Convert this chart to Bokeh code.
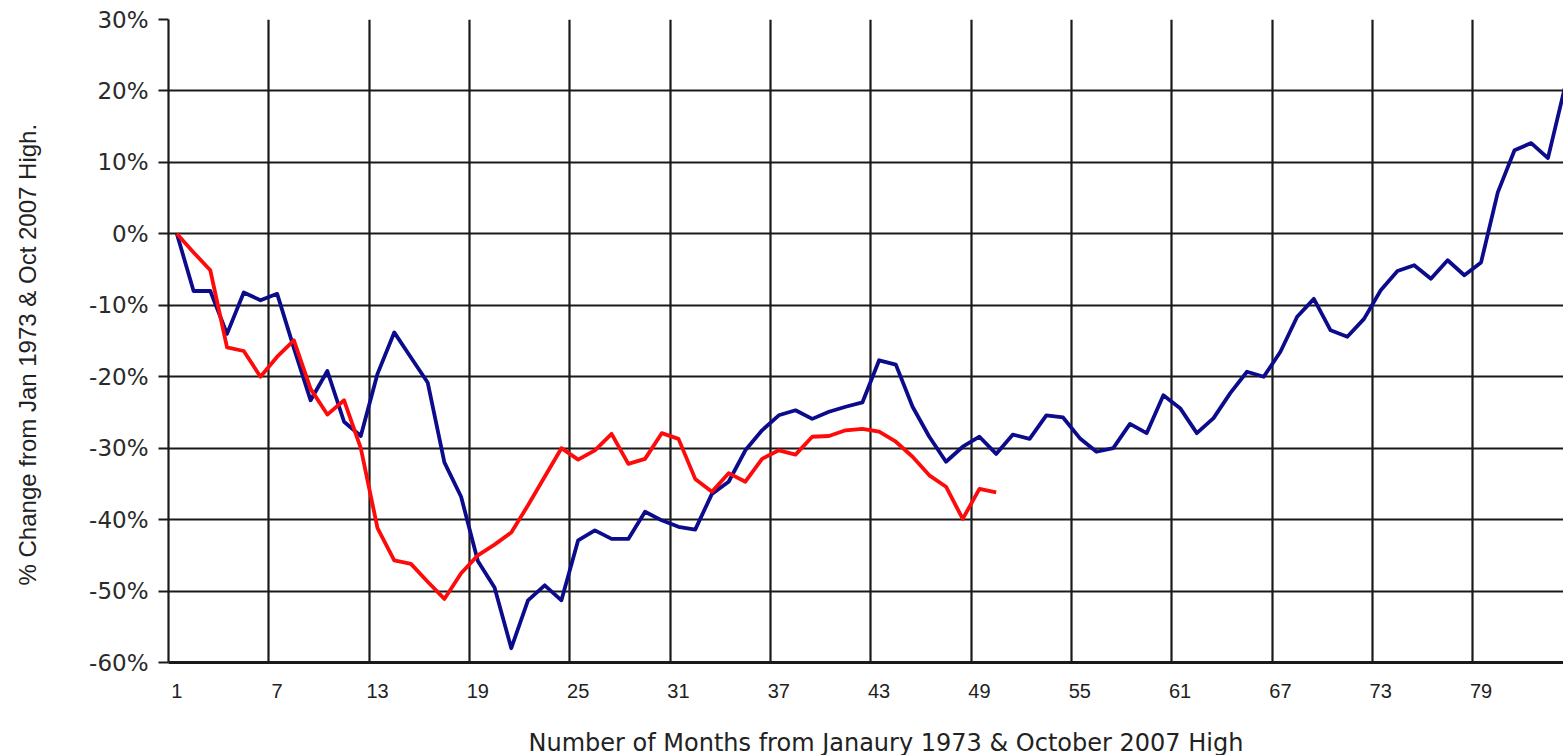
from bokeh.plotting import figure
from bokeh.models import Range1d, FixedTicker, Title
from bokeh.embed import file_html
from bokeh.resources import INLINE

# ---- data ----
months_blue = list(range(1, 85))
pct_1973 = [0.0, -8.0, -8.0, -14.0, -8.2, -9.3, -8.4, -16.0, -23.3, -19.2,
            -26.3, -28.3, -19.6, -13.8, -17.3, -20.8, -32.0, -36.8, -45.8, -49.5,
            -58.0, -51.3, -49.2, -51.3, -42.9, -41.5, -42.7, -42.7, -38.9, -40.1,
            -41.0, -41.4, -36.4, -34.7, -30.3, -27.5, -25.4, -24.7, -25.9, -24.9,
            -24.2, -23.6, -17.7, -18.3, -24.2, -28.4, -31.9, -29.8, -28.4, -30.8,
            -28.1, -28.7, -25.4, -25.7, -28.6, -30.5, -30.0, -26.6, -27.9, -22.6,
            -24.4, -27.9, -25.8, -22.3, -19.3, -20.0, -16.5, -11.6, -9.1, -13.5,
            -14.4, -11.9, -7.9, -5.2, -4.4, -6.3, -3.7, -5.8, -4.0, 5.8,
            11.7, 12.7, 10.6, 20.4]
months_red = list(range(1, 51))
pct_2007 = [0.0, -2.6, -5.1, -15.9, -16.4, -20.0, -17.2, -14.9, -21.7, -25.3,
            -23.3, -30.0, -41.2, -45.7, -46.2, -48.7, -51.1, -47.5, -45.0, -43.5,
            -41.8, -38.0, -34.0, -30.0, -31.6, -30.3, -28.0, -32.2, -31.5, -27.9,
            -28.7, -34.3, -36.1, -33.5, -34.7, -31.5, -30.3, -30.9, -28.4, -28.3,
            -27.5, -27.3, -27.7, -29.1, -31.2, -33.8, -35.4, -39.9, -35.7, -36.2]
x_tick_values = [1, 7, 13, 19, 25, 31, 37, 43, 49, 55, 61, 67, 73, 79]
y_tick_values = [30, 20, 10, 0, -10, -20, -30, -40, -50, -60]
y_tick_labels = ["30%", "20%", "10%", "0%", "-10%", "-20%", "-30%", "-40%", "-50%", "-60%"]
x_title = "Number of Months from Janaury 1973 & October 2007 High"
y_title = "% Change from Jan 1973 & Oct 2007 High."

p = figure(width=1563, height=755,
           min_border_left=168, min_border_right=0, min_border_top=19, min_border_bottom=93,
           x_range=Range1d(0.5, 83.93), y_range=Range1d(-60, 30),
           output_backend="svg", toolbar_location=None, tools="")

p.outline_line_color = None
p.background_fill_color = "white"
p.border_fill_color = "white"

# grid
p.xgrid.ticker = FixedTicker(ticks=[t - 0.5 for t in x_tick_values])
p.ygrid.ticker = FixedTicker(ticks=y_tick_values)
for g in (p.xgrid, p.ygrid):
    g.grid_line_color = "#1a1a1a"
    g.grid_line_width = 2.2
    g.grid_line_alpha = 1.0

# x axis
xa = p.xaxis[0]
xa.ticker = FixedTicker(ticks=x_tick_values)
xa.major_tick_out = 0
xa.major_tick_in = 0
xa.minor_tick_out = 0
xa.axis_line_color = "#1a1a1a"
xa.axis_line_width = 3
xa.major_label_text_font = "Liberation Sans"
xa.major_label_text_font_size = "20px"
xa.major_label_text_color = "#222222"
xa.major_label_standoff = 21
# blank spacer label (pads the axis panel so the title can sit lower)
xa.axis_label = " "
xa.axis_label_text_font_size = "1px"
xa.axis_label_standoff = 23

# y axis
ya = p.yaxis[0]
ya.ticker = FixedTicker(ticks=y_tick_values)
ya.major_label_overrides = {v: l for v, l in zip(y_tick_values, y_tick_labels)}
ya.major_tick_out = 10
ya.major_tick_in = 0
ya.minor_tick_out = 0
ya.major_tick_line_color = "#1a1a1a"
ya.major_tick_line_width = 2
ya.axis_line_color = "#1a1a1a"
ya.axis_line_width = 2.2
ya.major_label_text_font = "DejaVu Sans"
ya.major_label_text_font_size = "23px"
ya.major_label_text_color = "#2a2a2a"
ya.major_label_standoff = 10
ya.axis_label = " "
ya.axis_label_text_font_size = "1px"
ya.axis_label_standoff = 30

# axis titles as Titles (allow offset like the reference)
p.add_layout(Title(text=x_title, align="left", offset=360,
                   text_font="DejaVu Sans", text_font_size="24px",
                   text_font_style="normal", text_color="#222222", standoff=-2), "below")
p.add_layout(Title(text=y_title, align="left", offset=77,
                   text_font="Liberation Sans", text_font_size="24px",
                   text_font_style="normal", text_color="#222222", standoff=22), "left")

# series
p.line(months_blue, pct_1973, line_color="#0b0b8c", line_width=3.8, line_join="round")
p.line(months_red, pct_2007, line_color="#ff0a0a", line_width=3.8, line_join="round")

open("out.html", "w").write(file_html(p, INLINE))
